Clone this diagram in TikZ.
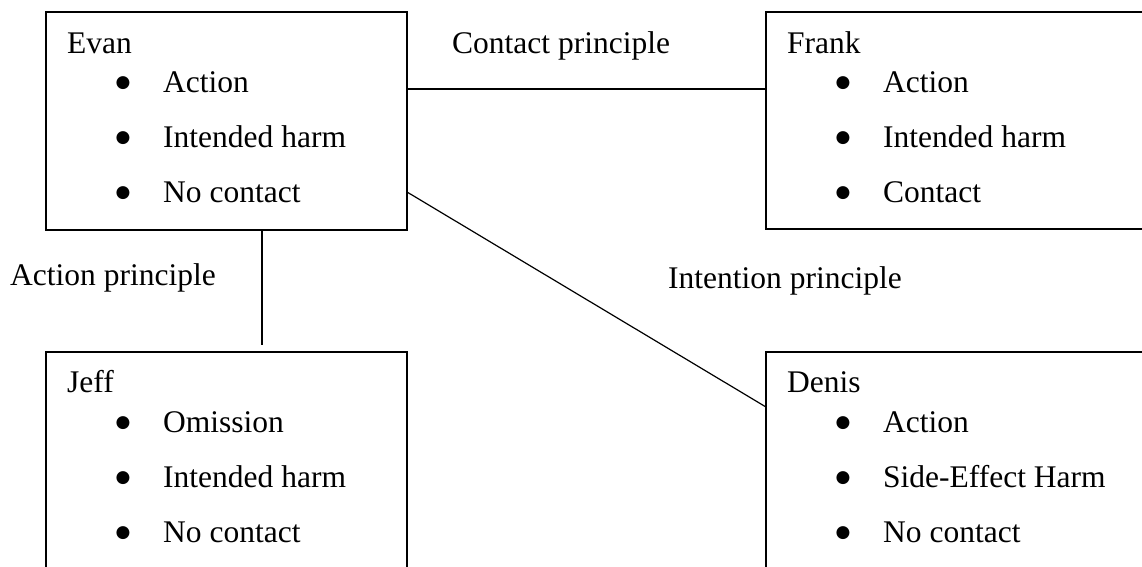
\documentclass[tikz,border=0pt]{standalone}
\usepackage{fontspec}
\setmainfont{Liberation Serif}
\newfontfamily\bulfont{DejaVu Sans}
\begin{document}
\begin{tikzpicture}[x=1pt,y=-1pt,
  box/.style={draw, line width=1.6pt, inner sep=0pt, outer sep=0pt, anchor=north west},
  txt/.style={anchor=base west, inner sep=0pt, font=\fontsize{31.5}{38}\selectfont},
  bul/.style={anchor=center, inner sep=0pt, font=\bulfont\fontsize{17}{20}\selectfont},
  link/.style={line width=1.2pt}]
\clip (0,0) rectangle (1142,566);
\fill[white] (0,0) rectangle (1142,566);
% boxes
\node[box, minimum width=361pt, minimum height=218pt] (evan) at (46,12) {};
\node[box, minimum width=400pt, minimum height=217pt] (frank) at (766,12) {};
\node[box, minimum width=361pt, minimum height=260pt] (jeff) at (46,352) {};
\node[box, minimum width=400pt, minimum height=260pt] (denis) at (766,352) {};
% Evan
\node[txt] (evanname) at (67,53) {Evan};
\node[bul] (eb1) at (123,83) {●};
\node[bul] (eb2) at (123,138) {●};
\node[bul] (eb3) at (123,193) {●};
\node[txt] (ei1) at (163,92) {Action};
\node[txt] (ei2) at (163,147) {Intended harm};
\node[txt] (ei3) at (163,202) {No contact};
% Frank
\node[txt] (frankname) at (787,53) {Frank};
\node[bul] (fb1) at (843,83) {●};
\node[bul] (fb2) at (843,138) {●};
\node[bul] (fb3) at (843,193) {●};
\node[txt] (fi1) at (883,92) {Action};
\node[txt] (fi2) at (883,147) {Intended harm};
\node[txt] (fi3) at (883,202) {Contact};
% Jeff
\node[txt] (jeffname) at (67,392) {Jeff};
\node[bul] (jb1) at (123,423) {●};
\node[bul] (jb2) at (123,478) {●};
\node[bul] (jb3) at (123,533) {●};
\node[txt] (ji1) at (163,432) {Omission};
\node[txt] (ji2) at (163,487) {Intended harm};
\node[txt] (ji3) at (163,542) {No contact};
% Denis
\node[txt] (denisname) at (787,392) {Denis};
\node[bul] (db1) at (843,423) {●};
\node[bul] (db2) at (843,478) {●};
\node[bul] (db3) at (843,533) {●};
\node[txt] (di1) at (883,432) {Action};
\node[txt] (di2) at (883,487) {Side-Effect Harm};
\node[txt] (di3) at (883,542) {No contact};
% labels
\node[txt] (lcontact) at (452,53) {Contact principle};
\node[txt] (laction) at (10,285) {Action principle};
\node[txt] (lintent) at (668,288) {Intention principle};
% connectors
\coordinate (jtop) at (262,345);
\draw[link] ([yshift=-77pt]evan.north east) -- ([yshift=-77pt]frank.north west);
\draw[link] ([yshift=-180pt]evan.north east) -- ([yshift=-55pt]denis.north west);
\draw[link] (evan.south west -| jtop) -- (jtop);
\end{tikzpicture}
\end{document}
